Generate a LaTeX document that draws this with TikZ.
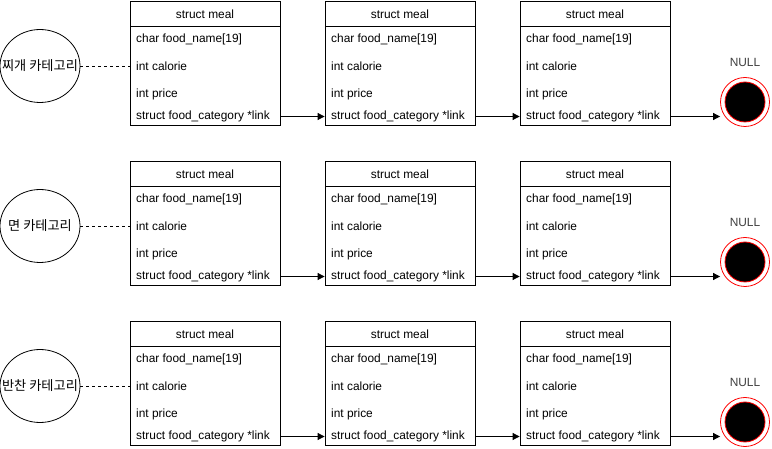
\documentclass[tikz,border=0pt]{standalone}
\usepackage{fontspec}
\setmainfont{Liberation Sans}
\newfontfamily\krfont{Noto Sans CJK KR}
\usetikzlibrary{arrows.meta,positioning,shapes.geometric}
\tikzset{
  linkarrow/.style={-{Triangle[length=7pt,width=7pt]}, line width=0.8pt, draw=black},
  dashlink/.style={dash pattern=on 3pt off 3pt, line width=0.7pt, draw=black},
  mealbox/.style={rectangle, draw=black, fill=white, line width=0.8pt, minimum width=150pt, minimum height=124pt, inner sep=0pt},
  headtext/.style={font=\fontsize{11.9}{14}\selectfont, inner sep=0pt},
  fieldtext/.style={anchor=west, font=\fontsize{11.9}{14}\selectfont, inner sep=0pt},
  catnode/.style={ellipse, draw=black, line width=0.8pt, minimum width=80pt, minimum height=73pt, inner sep=0pt},
  cattext/.style={font=\krfont\fontsize{13.2}{15}\selectfont, inner sep=0pt},
  nullring/.style={circle, draw=red, line width=0.8pt, minimum size=49pt, inner sep=0pt},
  nulldot/.style={circle, draw=red, fill=black, line width=0.8pt, minimum size=40pt, inner sep=0pt},
  labeltext/.style={font=\fontsize{11.9}{14}\selectfont, text=black!75, inner sep=0pt},
}

\begin{document}
\begin{tikzpicture}[x=1pt,y=-1pt]
\path[use as bounding box,fill=white] (0,0) rectangle (772,449);

\foreach \cat [count=\r] in {찌개 카테고리,면 카테고리,반찬 카테고리}{
  \pgfmathsetmacro{\oy}{(\r-1)*160}

  % category
  \node[catnode] (cat\r) at (40,66+\oy) {};
  \node[cattext] (catname\r) at (cat\r) {\cat};

  % three meal structs
  \foreach \bx [count=\b] in {130,325,520}{
    \node[mealbox] (meal\r\b) at (\bx+75,63+\oy) {};
    \draw[line width=0.8pt] (\bx,26+\oy) -- (\bx+150,26+\oy);
    \node[headtext] (head\r\b) at (\bx+75,14+\oy) {struct meal};
    \node[fieldtext] (name\r\b) at (\bx+6,39+\oy) {char food\_name[19]};
    \node[fieldtext] (cal\r\b) at (\bx+6,66+\oy) {int calorie};
    \node[fieldtext] (price\r\b) at (\bx+6,94+\oy) {int price};
    \node[fieldtext] (link\r\b) at (\bx+6,116.5+\oy) {struct food\_category *link};
  }

  % NULL end
  \node[nullring] (null\r) at (745,102+\oy) {};
  \node[nulldot] at (null\r) {};
  \node[labeltext] (nulltxt\r) at (745,62+\oy) {NULL};

  \draw[dashlink] (cat\r.east) -- (cat\r.east -| meal\r1.west);
  \draw[linkarrow] (meal\r1.east |- link\r1) -- (meal\r2.west |- link\r1);
  \draw[linkarrow] (meal\r2.east |- link\r2) -- (meal\r3.west |- link\r2);
  \draw[linkarrow] (meal\r3.east |- link\r3) -- (null\r.west |- link\r3);
}
\end{tikzpicture}
\end{document}
